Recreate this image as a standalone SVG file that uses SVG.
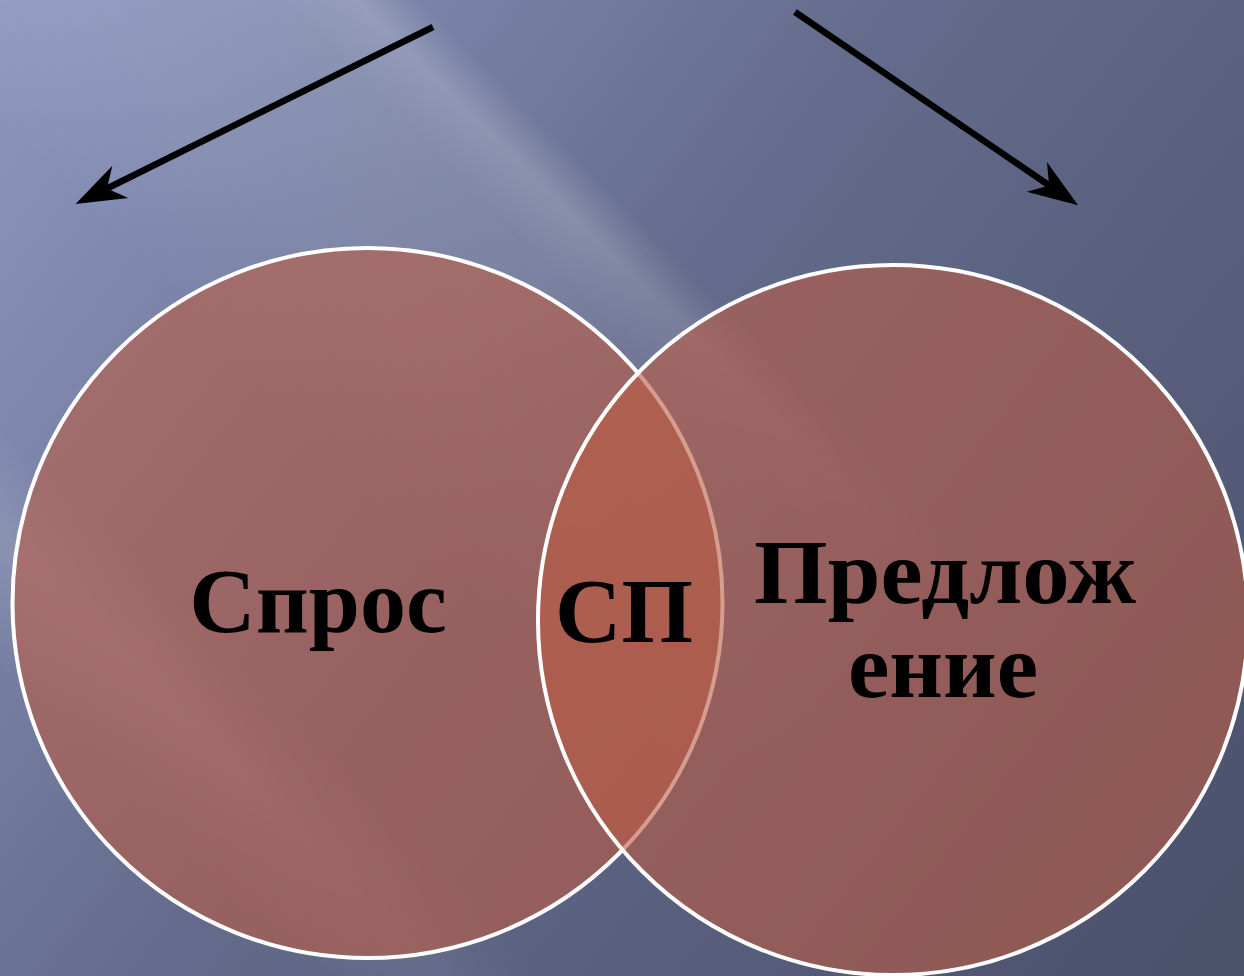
<svg xmlns="http://www.w3.org/2000/svg" width="1244" height="976" viewBox="0 0 1244 976">
<defs>
<linearGradient id="bg" x1="0" y1="0" x2="1244" y2="976" gradientUnits="userSpaceOnUse">
<stop offset="0" stop-color="#8e98c0"/>
<stop offset="0.45" stop-color="#646b8c"/>
<stop offset="1" stop-color="#4a506a"/>
</linearGradient>
<linearGradient id="streak1" x1="0" y1="700" x2="700" y2="0" gradientUnits="userSpaceOnUse">
<stop offset="0.4" stop-color="#ffffff" stop-opacity="0"/>
<stop offset="0.55" stop-color="#ffffff" stop-opacity="0.08"/>
<stop offset="0.7" stop-color="#ffffff" stop-opacity="0.12"/>
<stop offset="0.755" stop-color="#ffffff" stop-opacity="0.2"/>
<stop offset="0.8" stop-color="#ffffff" stop-opacity="0"/>
</linearGradient>
<linearGradient id="streak2" x1="0" y1="700" x2="700" y2="0" gradientUnits="userSpaceOnUse">
<stop offset="0.02" stop-color="#ffffff" stop-opacity="0"/>
<stop offset="0.12" stop-color="#ffffff" stop-opacity="0.13"/>
<stop offset="0.2" stop-color="#ffffff" stop-opacity="0"/>
</linearGradient>
<linearGradient id="fade1" x1="600" y1="200" x2="1000" y2="560" gradientUnits="userSpaceOnUse">
<stop offset="0" stop-color="#fff"/>
<stop offset="1" stop-color="#000"/>
</linearGradient>
<linearGradient id="fade2" x1="280" y1="740" x2="620" y2="1020" gradientUnits="userSpaceOnUse">
<stop offset="0" stop-color="#fff"/>
<stop offset="1" stop-color="#000"/>
</linearGradient>
<mask id="m1" maskUnits="userSpaceOnUse" x="0" y="0" width="1244" height="976">
<rect x="0" y="0" width="1244" height="976" fill="url(#fade1)"/>
</mask>
<mask id="m2" maskUnits="userSpaceOnUse" x="0" y="0" width="1244" height="976">
<rect x="0" y="0" width="1244" height="976" fill="url(#fade2)"/>
</mask>
<marker id="head" markerUnits="userSpaceOnUse" orient="auto" refX="0" refY="0" markerWidth="60" markerHeight="40" overflow="visible">
<path d="M34,0 L-16,-18 L-1,0 L-16,18 Z" fill="#000"/>
</marker>
<style>
.circ{fill:#ba5b45;fill-opacity:0.6;stroke:#ffffff;stroke-width:4}
.lbl{font-family:"Liberation Serif","DejaVu Serif",serif;font-weight:bold;font-size:92px;fill:#000;text-anchor:middle}
.arrow{stroke:#000;stroke-width:6.5;fill:none}
</style>
</defs>
<rect x="0" y="0" width="1244" height="976" fill="url(#bg)"/>
<rect x="0" y="0" width="1244" height="976" fill="url(#streak1)" mask="url(#m1)"/>
<rect x="0" y="0" width="1244" height="976" fill="url(#streak2)" mask="url(#m2)"/>
<g id="connectors">
<line class="arrow" x1="433" y1="27" x2="106" y2="189" marker-end="url(#head)"/>
<line class="arrow" x1="795" y1="12" x2="1050" y2="186" marker-end="url(#head)"/>
</g>
<g id="demand">
<circle class="circ" cx="367.5" cy="603" r="355"/>
</g>
<g id="supply">
<circle class="circ" cx="893" cy="620" r="355"/>
</g>
<g id="labels">
<text class="lbl" x="318" y="632">Спрос</text>
<text class="lbl" x="624" y="642">СП</text>
<text class="lbl" x="945" y="603" textLength="382" lengthAdjust="spacingAndGlyphs">Предлож</text>
<text class="lbl" x="943" y="697" textLength="190" lengthAdjust="spacingAndGlyphs">ение</text>
</g>
</svg>
